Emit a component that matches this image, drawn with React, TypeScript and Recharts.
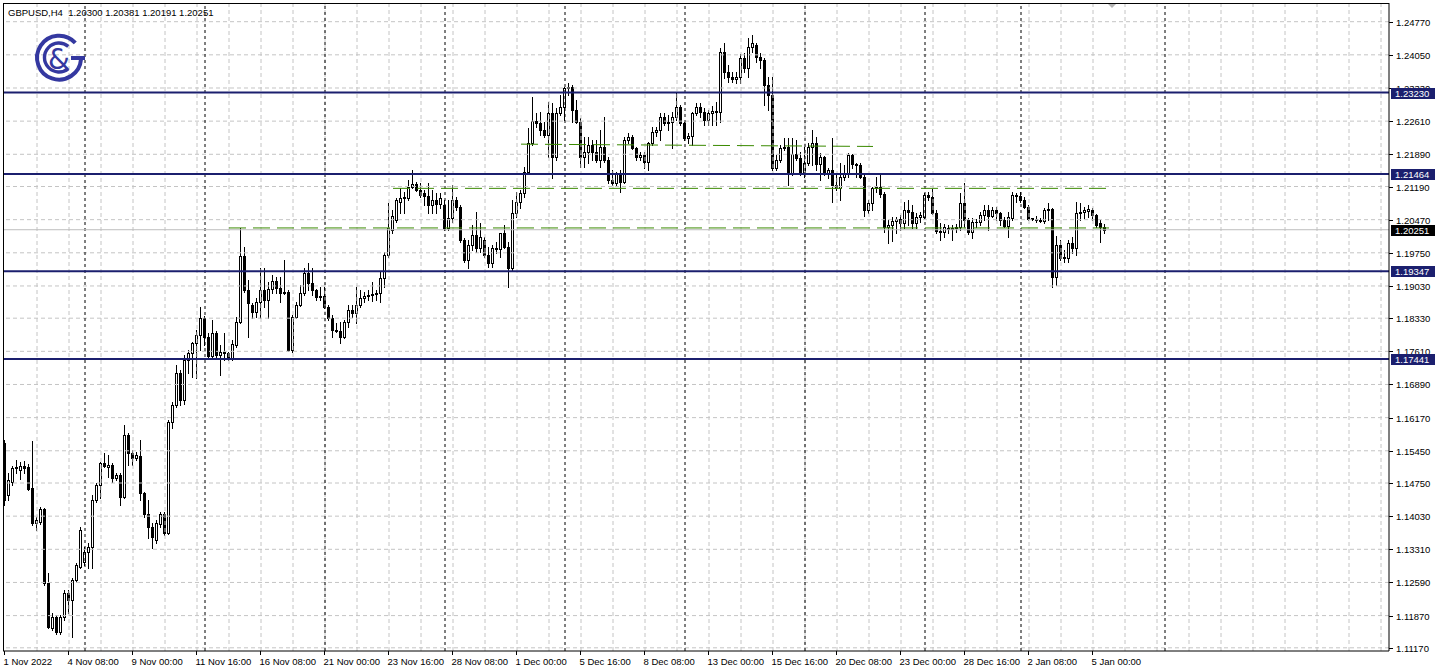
import React from 'react';
import { ComposedChart, Bar, XAxis, YAxis, ReferenceLine } from 'recharts';

// ---------- candle data (GBPUSD H4) ----------
const opens = [
  1.1562, 1.1449, 1.1477, 1.1508, 1.1503, 1.1512, 1.1510, 1.1464, 1.1388, 1.1390,
  1.1419, 1.1258, 1.1160, 1.1184, 1.1151, 1.1184, 1.1236, 1.1221, 1.1264, 1.1293,
  1.1303, 1.1325, 1.1336, 1.1438, 1.1471, 1.1519, 1.1510, 1.1514, 1.1486, 1.1492,
  1.1445, 1.1579, 1.1540, 1.1529, 1.1534, 1.1453, 1.1408, 1.1380, 1.1351, 1.1386,
  1.1408, 1.1366, 1.1608, 1.1644, 1.1714, 1.1655, 1.1742, 1.1757, 1.1779, 1.1796,
  1.1833, 1.1792, 1.1751, 1.1801, 1.1753, 1.1760, 1.1757, 1.1747, 1.1775, 1.1825,
  1.1968, 1.1894, 1.1862, 1.1846, 1.1868, 1.1894, 1.1873, 1.1896, 1.1914, 1.1899,
  1.1888, 1.1890, 1.1764, 1.1835, 1.1862, 1.1888, 1.1931, 1.1909, 1.1894, 1.1879,
  1.1881, 1.1857, 1.1833, 1.1807, 1.1805, 1.1792, 1.1825, 1.1851, 1.1844, 1.1862,
  1.1877, 1.1881, 1.1883, 1.1886, 1.1888, 1.1920, 1.1970, 1.2025, 1.2046, 1.2085,
  1.2094, 1.2094, 1.2118, 1.2124, 1.2111, 1.2105, 1.2098, 1.2079, 1.2090, 1.2081,
  1.2079, 1.2029, 1.2051, 1.2090, 1.2075, 1.2003, 1.1959, 1.1992, 1.2014, 1.1985,
  1.2003, 1.1970, 1.1953, 1.1985, 1.1983, 1.2018, 1.1988, 1.1942, 1.2062, 1.2085,
  1.2105, 1.2151, 1.2214, 1.2261, 1.2257, 1.2242, 1.2231, 1.2279, 1.2183, 1.2279,
  1.2292, 1.2333, 1.2335, 1.2285, 1.2259, 1.2183, 1.2194, 1.2210, 1.2194, 1.2177,
  1.2205, 1.2177, 1.2133, 1.2127, 1.2149, 1.2129, 1.2220, 1.2227, 1.2203, 1.2183,
  1.2187, 1.2172, 1.2214, 1.2237, 1.2242, 1.2270, 1.2257, 1.2259, 1.2270, 1.2292,
  1.2257, 1.2224, 1.2229, 1.2279, 1.2292, 1.2281, 1.2264, 1.2279, 1.2283, 1.2281,
  1.2411, 1.2368, 1.2357, 1.2353, 1.2357, 1.2398, 1.2376, 1.2422, 1.2426, 1.2400,
  1.2394, 1.2339, 1.2318, 1.2159, 1.2177, 1.2203, 1.2205, 1.2149, 1.2190, 1.2181,
  1.2151, 1.2170, 1.2205, 1.2214, 1.2168, 1.2183, 1.2149, 1.2155, 1.2122, 1.2116,
  1.2140, 1.2149, 1.2187, 1.2168, 1.2166, 1.2140, 1.2068, 1.2083, 1.2116, 1.2118,
  1.2103, 1.2031, 1.2035, 1.2044, 1.2048, 1.2040, 1.2068, 1.2064, 1.2040, 1.2053,
  1.2053, 1.2101, 1.2096, 1.2062, 1.2022, 1.2020, 1.2027, 1.2029, 1.2029, 1.2031,
  1.2083, 1.2046, 1.2020, 1.2042, 1.2042, 1.2057, 1.2068, 1.2055, 1.2068, 1.2062,
  1.2046, 1.2033, 1.2051, 1.2101, 1.2098, 1.2090, 1.2075, 1.2048, 1.2048, 1.2046,
  1.2044, 1.2068, 1.2070, 1.1922, 1.1992, 1.1964, 1.1964, 1.1996, 1.1985, 1.2062,
  1.2064, 1.2066, 1.2068, 1.2057, 1.2040, 1.20300,
];
const highs = [
  1.1568, 1.1497, 1.1512, 1.1525, 1.1521, 1.1523, 1.1516, 1.1566, 1.1401, 1.1423,
  1.1421, 1.1280, 1.1193, 1.1188, 1.1188, 1.1243, 1.1243, 1.1269, 1.1301, 1.1380,
  1.1336, 1.1345, 1.1449, 1.1475, 1.1521, 1.1540, 1.1536, 1.1519, 1.1497, 1.1497,
  1.1601, 1.1584, 1.1547, 1.1542, 1.1568, 1.1455, 1.1438, 1.1388, 1.1395, 1.1412,
  1.1412, 1.1612, 1.1651, 1.1731, 1.1721, 1.1753, 1.1764, 1.1781, 1.1807, 1.1857,
  1.1838, 1.1801, 1.1829, 1.1805, 1.1775, 1.1801, 1.1760, 1.1786, 1.1836, 1.2029,
  1.1988, 1.1916, 1.1866, 1.1877, 1.1942, 1.1942, 1.1912, 1.1927, 1.1923, 1.1923,
  1.1959, 1.1894, 1.1840, 1.1868, 1.1905, 1.1942, 1.1953, 1.1942, 1.1897, 1.1901,
  1.1901, 1.1862, 1.1840, 1.1823, 1.1825, 1.1829, 1.1862, 1.1862, 1.1901, 1.1894,
  1.1890, 1.1894, 1.1912, 1.1894, 1.1933, 1.1977, 1.2083, 1.2068, 1.2094, 1.2116,
  1.2107, 1.2133, 1.2155, 1.2129, 1.2127, 1.2111, 1.2127, 1.2111, 1.2105, 1.2105,
  1.2090, 1.2090, 1.2122, 1.2096, 1.2079, 1.2007, 1.2003, 1.2035, 1.2064, 1.2040,
  1.2009, 1.1988, 1.1992, 1.1999, 1.2018, 1.2035, 1.1999, 1.2090, 1.2107, 1.2111,
  1.2161, 1.2246, 1.2313, 1.2279, 1.2281, 1.2259, 1.2302, 1.2300, 1.2290, 1.2318,
  1.2335, 1.2344, 1.2340, 1.2307, 1.2268, 1.2227, 1.2227, 1.2220, 1.2220, 1.2242,
  1.2270, 1.2183, 1.2155, 1.2151, 1.2155, 1.2227, 1.2235, 1.2231, 1.2205, 1.2194,
  1.2194, 1.2216, 1.2248, 1.2248, 1.2279, 1.2279, 1.2274, 1.2281, 1.2324, 1.2296,
  1.2259, 1.2235, 1.2281, 1.2300, 1.2300, 1.2290, 1.2285, 1.2294, 1.2302, 1.2420,
  1.2431, 1.2383, 1.2368, 1.2368, 1.2407, 1.2409, 1.2442, 1.2448, 1.2431, 1.2409,
  1.2398, 1.2357, 1.2357, 1.2187, 1.2210, 1.2224, 1.2224, 1.2224, 1.2220, 1.2194,
  1.2205, 1.2214, 1.2242, 1.2227, 1.2192, 1.2185, 1.2159, 1.2224, 1.2149, 1.2170,
  1.2166, 1.2192, 1.2189, 1.2170, 1.2170, 1.2146, 1.2090, 1.2118, 1.2140, 1.2146,
  1.2107, 1.2046, 1.2053, 1.2053, 1.2057, 1.2085, 1.2090, 1.2079, 1.2062, 1.2064,
  1.2105, 1.2107, 1.2114, 1.2068, 1.2040, 1.2038, 1.2035, 1.2035, 1.2038, 1.2105,
  1.2127, 1.2051, 1.2051, 1.2048, 1.2064, 1.2079, 1.2079, 1.2075, 1.2075, 1.2064,
  1.2053, 1.2064, 1.2107, 1.2105, 1.2107, 1.2096, 1.2079, 1.2051, 1.2055, 1.2051,
  1.2072, 1.2083, 1.2072, 1.2012, 1.2003, 1.1981, 1.2003, 1.2009, 1.2085, 1.2083,
  1.2075, 1.2079, 1.2072, 1.2059, 1.2046, 1.20381,
];
const lows = [
  1.1427, 1.1438, 1.1471, 1.1497, 1.1484, 1.1497, 1.1460, 1.1384, 1.1373, 1.1386,
  1.1253, 1.1160, 1.1156, 1.1147, 1.1147, 1.1178, 1.1193, 1.1141, 1.1260, 1.1291,
  1.1297, 1.1291, 1.1291, 1.1434, 1.1442, 1.1510, 1.1488, 1.1477, 1.1482, 1.1427,
  1.1442, 1.1514, 1.1514, 1.1525, 1.1438, 1.1401, 1.1356, 1.1334, 1.1345, 1.1380,
  1.1362, 1.1364, 1.1595, 1.1640, 1.1644, 1.1647, 1.1714, 1.1705, 1.1703, 1.1764,
  1.1775, 1.1744, 1.1747, 1.1747, 1.1710, 1.1742, 1.1742, 1.1742, 1.1770, 1.1823,
  1.1890, 1.1792, 1.1833, 1.1835, 1.1833, 1.1857, 1.1833, 1.1888, 1.1888, 1.1868,
  1.1886, 1.1762, 1.1760, 1.1833, 1.1860, 1.1883, 1.1894, 1.1883, 1.1873, 1.1873,
  1.1855, 1.1829, 1.1792, 1.1803, 1.1779, 1.1790, 1.1814, 1.1835, 1.1823, 1.1857,
  1.1868, 1.1873, 1.1870, 1.1873, 1.1868, 1.1901, 1.1966, 1.2018, 1.2042, 1.2062,
  1.2062, 1.2090, 1.2116, 1.2109, 1.2096, 1.2079, 1.2062, 1.2062, 1.2062, 1.2072,
  1.2025, 1.2025, 1.2042, 1.2068, 1.1999, 1.1955, 1.1942, 1.1981, 1.1977, 1.1977,
  1.1966, 1.1944, 1.1944, 1.1975, 1.1966, 1.1985, 1.1901, 1.1938, 1.2053, 1.2072,
  1.2096, 1.2149, 1.2210, 1.2248, 1.2231, 1.2227, 1.2183, 1.2138, 1.2177, 1.2274,
  1.2264, 1.2318, 1.2259, 1.2257, 1.2161, 1.2161, 1.2170, 1.2177, 1.2172, 1.2161,
  1.2172, 1.2127, 1.2122, 1.2122, 1.2107, 1.2127, 1.2214, 1.2201, 1.2177, 1.2177,
  1.2159, 1.2155, 1.2210, 1.2229, 1.2220, 1.2253, 1.2242, 1.2203, 1.2264, 1.2253,
  1.2220, 1.2214, 1.2210, 1.2274, 1.2270, 1.2253, 1.2253, 1.2253, 1.2253, 1.2259,
  1.2355, 1.2346, 1.2346, 1.2344, 1.2344, 1.2368, 1.2357, 1.2411, 1.2390, 1.2376,
  1.2296, 1.2285, 1.2155, 1.2155, 1.2172, 1.2198, 1.2122, 1.2144, 1.2177, 1.2144,
  1.2140, 1.2166, 1.2166, 1.2155, 1.2133, 1.2144, 1.2138, 1.2085, 1.2111, 1.2090,
  1.2133, 1.2140, 1.2159, 1.2140, 1.2138, 1.2055, 1.2062, 1.2068, 1.2107, 1.2096,
  1.2020, 1.1996, 1.2001, 1.2018, 1.2025, 1.2029, 1.2035, 1.2029, 1.2029, 1.2042,
  1.2051, 1.2090, 1.2059, 1.2018, 1.2003, 1.2009, 1.2018, 1.2003, 1.2020, 1.2025,
  1.2031, 1.2016, 1.2007, 1.2031, 1.2035, 1.2046, 1.2025, 1.2053, 1.2046, 1.2035,
  1.2031, 1.2009, 1.2046, 1.2085, 1.2085, 1.2072, 1.2046, 1.2046, 1.2042, 1.2042,
  1.2040, 1.2046, 1.1901, 1.1905, 1.1959, 1.1955, 1.1955, 1.1975, 1.1970, 1.2046,
  1.2051, 1.2053, 1.2046, 1.2031, 1.1999, 1.20191,
];
const closes = [
  1.1438, 1.1482, 1.1508, 1.1510, 1.1512, 1.1508, 1.1462, 1.1388, 1.1395, 1.1419,
  1.1258, 1.1162, 1.1184, 1.1151, 1.1184, 1.1236, 1.1221, 1.1264, 1.1297, 1.1373,
  1.1325, 1.1336, 1.1438, 1.1471, 1.1519, 1.1512, 1.1514, 1.1486, 1.1492, 1.1445,
  1.1579, 1.1540, 1.1529, 1.1536, 1.1453, 1.1408, 1.1380, 1.1358, 1.1388, 1.1408,
  1.1366, 1.1608, 1.1644, 1.1714, 1.1655, 1.1742, 1.1757, 1.1779, 1.1796, 1.1833,
  1.1792, 1.1751, 1.1801, 1.1753, 1.1760, 1.1757, 1.1744, 1.1777, 1.1825, 1.1968,
  1.1894, 1.1866, 1.1846, 1.1868, 1.1894, 1.1873, 1.1896, 1.1914, 1.1899, 1.1888,
  1.1890, 1.1764, 1.1835, 1.1862, 1.1888, 1.1931, 1.1909, 1.1894, 1.1879, 1.1881,
  1.1857, 1.1833, 1.1807, 1.1805, 1.1792, 1.1825, 1.1851, 1.1844, 1.1862, 1.1877,
  1.1881, 1.1883, 1.1886, 1.1888, 1.1920, 1.1970, 1.2029, 1.2055, 1.2090, 1.2094,
  1.2096, 1.2118, 1.2124, 1.2111, 1.2101, 1.2098, 1.2079, 1.2090, 1.2081, 1.2094,
  1.2029, 1.2051, 1.2090, 1.2075, 1.2003, 1.1959, 1.1992, 1.2014, 1.1985, 1.2009,
  1.1970, 1.1953, 1.1985, 1.1983, 1.2018, 1.1988, 1.1942, 1.2062, 1.2085, 1.2105,
  1.2151, 1.2214, 1.2261, 1.2257, 1.2242, 1.2231, 1.2279, 1.2183, 1.2279, 1.2292,
  1.2333, 1.2335, 1.2285, 1.2259, 1.2183, 1.2194, 1.2210, 1.2194, 1.2177, 1.2205,
  1.2177, 1.2133, 1.2127, 1.2149, 1.2129, 1.2220, 1.2227, 1.2203, 1.2183, 1.2187,
  1.2172, 1.2214, 1.2237, 1.2242, 1.2270, 1.2257, 1.2259, 1.2270, 1.2292, 1.2257,
  1.2224, 1.2229, 1.2279, 1.2292, 1.2281, 1.2264, 1.2279, 1.2283, 1.2281, 1.2411,
  1.2368, 1.2357, 1.2353, 1.2357, 1.2398, 1.2376, 1.2422, 1.2431, 1.2400, 1.2394,
  1.2339, 1.2318, 1.2159, 1.2177, 1.2203, 1.2205, 1.2149, 1.2190, 1.2181, 1.2151,
  1.2170, 1.2205, 1.2214, 1.2168, 1.2183, 1.2149, 1.2155, 1.2122, 1.2116, 1.2140,
  1.2149, 1.2187, 1.2168, 1.2166, 1.2140, 1.2068, 1.2083, 1.2116, 1.2118, 1.2103,
  1.2031, 1.2035, 1.2044, 1.2048, 1.2040, 1.2068, 1.2064, 1.2040, 1.2053, 1.2057,
  1.2101, 1.2096, 1.2062, 1.2022, 1.2020, 1.2031, 1.2029, 1.2027, 1.2031, 1.2083,
  1.2046, 1.2020, 1.2042, 1.2041, 1.2057, 1.2068, 1.2055, 1.2068, 1.2062, 1.2046,
  1.2033, 1.2053, 1.2101, 1.2098, 1.2090, 1.2075, 1.2048, 1.2050, 1.2047, 1.2045,
  1.2068, 1.2070, 1.1922, 1.1992, 1.1964, 1.1966, 1.1996, 1.1985, 1.2062, 1.2064,
  1.2068, 1.2070, 1.2057, 1.2035, 1.2031, 1.20251,
];

// ---------- axes / annotations ----------
const symbolName = 'GBPUSD,H4';
const TOTAL_SLOTS = 346; // candle slots across the visible window (incl. empty future space)
const Y_MIN = 1.11101;
const Y_MAX = 1.25176;

const xTickIndexes = [0, 16, 32, 48, 64, 80, 96, 112, 128, 144, 160, 176, 192, 208, 224, 240, 256, 272];
const xTickLabels = [
  '1 Nov 2022', '4 Nov 08:00', '9 Nov 00:00', '11 Nov 16:00', '16 Nov 08:00', '21 Nov 00:00',
  '23 Nov 16:00', '28 Nov 08:00', '1 Dec 00:00', '5 Dec 16:00', '8 Dec 08:00', '13 Dec 00:00',
  '15 Dec 16:00', '20 Dec 08:00', '23 Dec 00:00', '28 Dec 16:00', '2 Jan 08:00', '5 Jan 00:00',
];
const priceTicks = [
  1.2477, 1.2405, 1.2333, 1.2261, 1.2189, 1.2119, 1.2047, 1.1975, 1.1903, 1.1833,
  1.1761, 1.1689, 1.1617, 1.1545, 1.1475, 1.1403, 1.1331, 1.1259, 1.1187, 1.1117,
];
const levelLines = [1.2323, 1.21464, 1.19347, 1.17441];
const currentPrice = 1.20251;
const separatorIndexes = [20, 50, 80, 110, 140, 170, 200, 230, 254, 290];
const gridStep = 8;
const greenStarts = [56, 97, 129];
const greenEnds = [276, 277, 217];
const greenStartPrices = [1.2029, 1.2115, 1.2211];
const greenEndPrices = [1.2029, 1.2115, 1.2206];

const FONT = 'Liberation Sans, Arial, Helvetica, sans-serif';
const NAVY = '#1b1f6e';
const GREEN = '#3a8a00';
const LOGO = '#3438a0';

const Candle = (props: any) => {
  const { x, y, width, height, payload } = props;
  if (!payload || payload.o == null || x == null || y == null) return <g />;
  const { o, h, l, c } = payload;
  const top0 = height < 0 ? y + height : y;
  const hh = Math.abs(height);
  const span = h - l;
  const py = (v: number) => (span > 0 ? top0 + ((h - v) / span) * hh : top0);
  const cx = Math.floor(x + width / 2 - 0.25);
  const yh = Math.round(py(h));
  const yl = Math.round(py(l));
  const yo = Math.round(py(o));
  const yc = Math.round(py(c));
  const top = Math.min(yo, yc);
  const bot = Math.max(yo, yc);
  const bull = c > o;
  return (
    <g>
      <rect x={cx} y={yh} width={1} height={Math.max(1, yl - yh + 1)} fill="#000" />
      {bull && bot - top >= 2 ? (
        <rect x={cx - 0.5} y={top + 0.5} width={2} height={bot - top} fill="#fff" stroke="#000" strokeWidth={1} />
      ) : (
        <rect x={cx - 1} y={top} width={3} height={Math.max(1, bot - top + 1)} fill="#000" />
      )}
    </g>
  );
};

const XTick = (props: any) => {
  const { x, y, payload } = props;
  const idx = xTickIndexes.indexOf(Number(payload.value));
  const label = idx >= 0 ? xTickLabels[idx] : '';
  const px = Math.floor(x - 0.25) + 0.5;
  return (
    <g>
      <line x1={px} y1={y} x2={px} y2={y + 4} stroke="#000" strokeWidth={1} />
      <text x={x - 1.5} y={y + 14} fontSize={9.5} fontFamily={FONT} fill="#000" textAnchor="start">
        {label}
      </text>
    </g>
  );
};

const YTick = (props: any) => {
  const { x, y, payload } = props;
  const v = Number(payload.value);
  const yy = Math.round(y);
  const text = v.toFixed(5);
  const isLevel = levelLines.includes(v);
  const isCurrent = v === currentPrice;
  if (isLevel || isCurrent) {
    return (
      <g>
        <rect x={x + 2} y={yy - 5} width={44} height={11} fill={isCurrent ? '#000' : NAVY} />
        <text x={x + 6} y={yy + 4} fontSize={9.5} fontFamily={FONT} fill="#fff">{text}</text>
      </g>
    );
  }
  return (
    <g>
      <line x1={x} y1={yy + 0.5} x2={x + 4} y2={yy + 0.5} stroke="#000" strokeWidth={1} />
      <text x={x + 7} y={yy + 4} fontSize={9.5} fontFamily={FONT} fill="#000">{text}</text>
    </g>
  );
};

export default function App() {
  const rows = Array.from({ length: TOTAL_SLOTS }, (_, i) =>
    i < opens.length
      ? { i, o: opens[i], h: highs[i], l: lows[i], c: closes[i], range: [lows[i], highs[i]] }
      : { i, range: null }
  );
  const gridIdx: number[] = [];
  for (let k = gridStep; k < TOTAL_SLOTS; k += gridStep) gridIdx.push(k);
  const yTicks = [...priceTicks, ...levelLines, currentPrice];
  const last = opens.length - 1;
  const title = `${symbolName}  ${opens[last].toFixed(5)} ${highs[last].toFixed(5)} ${lows[last].toFixed(5)} ${closes[last].toFixed(5)}`;

  return (
    <div style={{ position: 'absolute', left: 0, top: 0, width: 1438, height: 671, background: '#fff', overflow: 'hidden' }}>
      <ComposedChart width={1438} height={671} data={rows} margin={{ top: 3, right: 0, bottom: 0, left: 3 }} barCategoryGap={0}>
        <XAxis
          dataKey="i"
          type="category"
          allowDuplicatedCategory={false}
          ticks={xTickIndexes}
          interval={0}
          padding={{ left: 0, right: 2 }}
          height={20}
          tickSize={0}
          tickMargin={0}
          tickLine={false}
          axisLine={{ stroke: '#000' }}
          tick={(p: any) => <XTick {...p} />}
        />
        <YAxis
          orientation="right"
          type="number"
          domain={[Y_MIN, Y_MAX]}
          allowDataOverflow
          ticks={yTicks}
          interval={0}
          width={49}
          tickSize={0}
          tickMargin={0}
          tickLine={false}
          axisLine={{ stroke: '#000' }}
          tick={(p: any) => <YTick {...p} />}
        />
        {priceTicks.map((p) => (
          <ReferenceLine key={'hg' + p} y={p} stroke="#c4c4c4" strokeDasharray="4 3" />
        ))}
        {gridIdx.map((k) => (
          <ReferenceLine key={'vg' + k} x={k} stroke="#c4c4c4" strokeDasharray="4 3" />
        ))}
        {separatorIndexes.map((k) => (
          <ReferenceLine key={'sep' + k} x={k} stroke="#000" strokeDasharray="3 3" />
        ))}
        <ReferenceLine y={currentPrice} stroke="#bdbdbd" />
        <Bar dataKey="range" isAnimationActive={false} shape={(p: any) => <Candle {...p} />} />
        {greenStarts.map((s, k) => (
          <ReferenceLine
            key={'gr' + k}
            segment={[
              { x: s, y: greenStartPrices[k] },
              { x: greenEnds[k], y: greenEndPrices[k] },
            ]}
            stroke={GREEN}
            strokeDasharray="17 7"
          />
        ))}
        {levelLines.map((p) => (
          <ReferenceLine key={'lv' + p} y={p} stroke={NAVY} strokeWidth={2} />
        ))}
      </ComposedChart>
      <div
        style={{
          position: 'absolute', left: 3, top: 3, width: 1386, height: 648,
          borderLeft: '1px solid #000', borderTop: '1px solid #000', boxSizing: 'border-box', pointerEvents: 'none',
        }}
      />
      <svg width={1438} height={671} style={{ position: 'absolute', left: 0, top: 0, pointerEvents: 'none' }}>
        <text x={8} y={16} fontSize={9.5} fontFamily={FONT} fill="#000" style={{ whiteSpace: 'pre' }}>{title}</text>
        <g fill="none" stroke={LOGO} strokeLinecap="butt">
          <path d="M75.3 42.8 A22 22 0 1 0 81 59.4" strokeWidth={4} />
          <path d="M71 58 L85 58" strokeWidth={4} />
          <path d="M68.3 46.4 A14.5 14.5 0 1 0 68.3 68.6" strokeWidth={3.4} />
        </g>
        <text x={59} y={68.5} fontSize={28} fontFamily="DejaVu Sans, sans-serif" fill={LOGO} textAnchor="middle">&amp;</text>
        <polygon points="1108,4 1116,4 1112,8" fill="#b4b4b4" />
      </svg>
    </div>
  );
}
